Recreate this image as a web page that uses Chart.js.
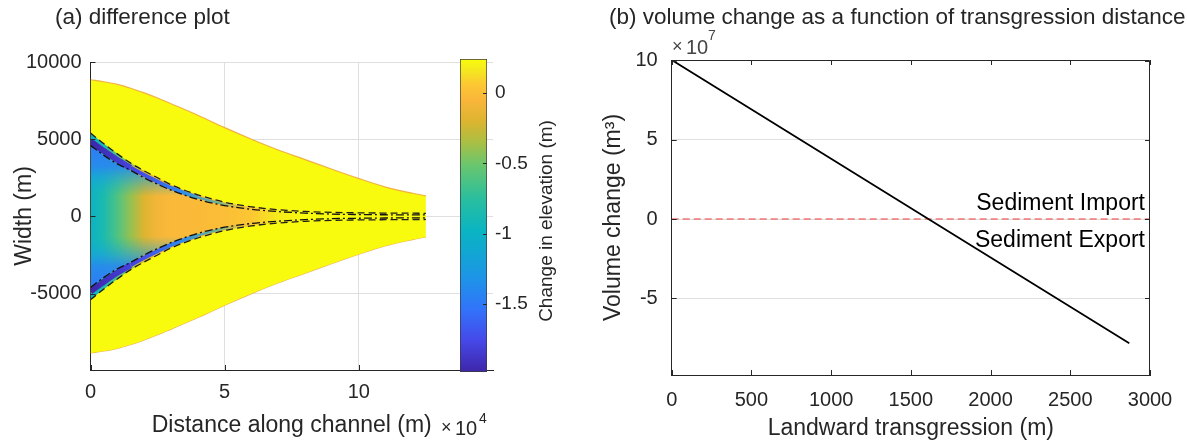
<!DOCTYPE html>
<html>
<head>
<meta charset="utf-8">
<title>difference plot / volume change</title>
<script src="https://cdn.jsdelivr.net/npm/chart.js@4.4.1/dist/chart.umd.min.js"></script>
<style>
  html, body { margin: 0; padding: 0; background: #fff; }
  #wrap { position: relative; width: 1187px; height: 447px; overflow: hidden; }
  canvas { position: absolute; top: 0; }
</style>
</head>
<body>
<div id="wrap">
  <canvas id="diff" width="600" height="447" style="left:0px"></canvas>
  <canvas id="cbar" width="145" height="447" style="left:455px"></canvas>
  <canvas id="vol" width="587" height="447" style="left:600px"></canvas>
</div>
<script>
// (a) planform: distance along channel (m) and half widths (m)
var distance     = [0, 5000, 10000, 15000, 20000, 25000, 30000, 40000, 50000, 60000, 70000, 80000, 90000, 100000, 110000, 120000, 125000];
var outerWidth   = [8850, 8720, 8550, 8300, 8000, 7670, 7300, 6550, 5750, 5000, 4300, 3680, 3050, 2450, 1900, 1500, 1330];
var dashedWidth  = [5400, 4700, 4050, 3450, 2950, 2500, 2050, 1400, 920, 620, 430, 320, 260, 230, 215, 205, 200];
var bandWidth    = [4850, 4230, 3650, 3150, 2680, 2250, 1850, 1230, 790, 520, 350, 250, 190, 160, 150, 145, 145];
var dashDotWidth = [4600, 3950, 3400, 2980, 2500, 2080, 1700, 1100, 700, 460, 310, 210, 150, 120, 105, 100, 100];
// change in elevation (m) along the channel centre line
var centreChange = [-1.0, -0.85, -0.62, -0.4, -0.2, -0.08, -0.03, -0.02, 0.0, 0.06, 0.18, 0.24, 0.24, 0.24, 0.24, 0.24, 0.24];

var distTicks  = [0, 50000, 100000];
var widthTicks = [-5000, 0, 5000, 10000];

// colour bar
var cbarMin = -1.984, cbarMax = 0.242;
var cbarTicks = [-1.5, -1, -0.5, 0];

// (b) volume change vs landward transgression
var transgression = [0, 1610, 2870];
var volumeChange  = [1.005e8, 0, -7.85e7];
var zeroX = [0, 3000];
var zeroY = [0, 0];
var transTicks = [0, 500, 1000, 1500, 2000, 2500, 3000];
var volTicks   = [-5e7, 0, 5e7, 1e8];

Chart.defaults.font.family = "'Liberation Sans', Arial, Helvetica, sans-serif";
Chart.defaults.color = '#262626';
var AX = '#262626', GRID = '#dfdfdf';

// parula-like colour map (fraction -> rgb)
var parulaStops = [
  [0.00, 62, 38, 168], [0.10, 70, 72, 232], [0.20, 50, 115, 250], [0.30, 30, 148, 232],
  [0.40, 15, 170, 205], [0.45, 10, 180, 195], [0.55, 40, 190, 160], [0.66, 105, 198, 110],
  [0.74, 175, 190, 65], [0.80, 220, 180, 48], [0.87, 250, 182, 58], [0.92, 252, 200, 50],
  [0.96, 245, 230, 32], [1.00, 249, 251, 14]
];
function parula(v) {
  var f = (v - cbarMin) / (cbarMax - cbarMin);
  f = Math.max(0, Math.min(1, f));
  for (var i = 1; i < parulaStops.length; i++) {
    var a = parulaStops[i - 1], b = parulaStops[i];
    if (f <= b[0]) {
      var t = (f - a[0]) / (b[0] - a[0]);
      return 'rgb(' + Math.round(a[1] + t * (b[1] - a[1])) + ',' + Math.round(a[2] + t * (b[2] - a[2])) + ',' + Math.round(a[3] + t * (b[3] - a[3])) + ')';
    }
  }
  return 'rgb(249,251,14)';
}

function pts(xs, ys, sign) {
  return xs.map(function (x, i) { return {x: x, y: sign * ys[i]}; });
}

function xGradient(chart, from, to, stops) {
  var xs = chart.scales.x;
  var g = chart.ctx.createLinearGradient(xs.getPixelForValue(from), 0, xs.getPixelForValue(to), 0);
  stops.forEach(function (s) { g.addColorStop(s[0], s[1]); });
  return g;
}

function channelFill(c) {
  var chart = c.chart;
  if (!chart.chartArea) return 'rgba(0,0,0,0)';
  var last = distance.length - 1, span = distance[last] - distance[0];
  return xGradient(chart, distance[0], distance[last], distance.map(function (d, i) {
    return [(d - distance[0]) / span, parula(centreChange[i])];
  }));
}
// blue fringe along the banks, fading out towards the centre line
function fringeFill(c) {
  var chart = c.chart;
  if (!chart.chartArea) return 'rgba(0,0,0,0)';
  var ys = chart.scales.y;
  var g = chart.ctx.createLinearGradient(0, ys.getPixelForValue(4600), 0, ys.getPixelForValue(-4600));
  [[0, 'rgba(48,122,246,1)'], [0.152, 'rgba(40,136,240,0.9)'], [0.25, 'rgba(25,162,222,0.5)'], [0.359, 'rgba(20,178,200,0)'],
   [0.641, 'rgba(20,178,200,0)'], [0.75, 'rgba(25,162,222,0.5)'], [0.848, 'rgba(40,136,240,0.9)'], [1, 'rgba(48,122,246,1)']]
    .forEach(function (s) { g.addColorStop(s[0], s[1]); });
  return g;
}
function bandColor(c) {
  if (!c.chart.chartArea) return 'rgba(0,0,0,0)';
  return xGradient(c.chart, 0, 60000, [[0, 'rgb(62,38,168)'], [0.3, 'rgb(70,72,232)'], [0.55, 'rgb(45,135,240)'], [0.8, 'rgba(20,175,205,0.6)'], [1, 'rgba(240,190,60,0)']]);
}
function bandWidthStyle(c) {
  var x = c.p0.parsed.x;
  return x < 15000 ? 6 : x < 35000 ? 4 : 2.5;
}

// inward tick marks and box lines, MATLAB style
var frame = {
  id: 'frame',
  afterDatasetsDraw: function (chart, args, o) {
    var c = chart.ctx, a = chart.chartArea, len = o.len || 5;
    c.save();
    c.strokeStyle = AX; c.lineWidth = 1;
    c.beginPath();
    (o.sides || []).forEach(function (side) {
      var horiz = side === 'top' || side === 'bottom';
      var sc = horiz ? chart.scales.x : chart.scales.y;
      sc.ticks.forEach(function (t) {
        var p = Math.round(sc.getPixelForValue(t.value)) + 0.5;
        if (side === 'bottom') { c.moveTo(p, a.bottom); c.lineTo(p, a.bottom - len); }
        if (side === 'top')    { c.moveTo(p, a.top); c.lineTo(p, a.top + len); }
        if (side === 'left')   { c.moveTo(a.left, p); c.lineTo(a.left + len, p); }
        if (side === 'right')  { c.moveTo(a.right, p); c.lineTo(a.right - len, p); }
      });
    });
    if (o.box) {
      var t = Math.round(a.top) + 0.5, r = Math.round(a.right) - 0.5;
      c.moveTo(a.left, t); c.lineTo(r, t); c.lineTo(r, a.bottom);
    }
    c.stroke();
    c.restore();
  }
};

// free text: panel titles, exponents, annotations
var texts = {
  id: 'texts',
  afterDraw: function (chart, args, o) {
    var c = chart.ctx;
    (o.items || []).forEach(function (t) {
      c.save();
      c.font = (t.size || 20) + "px 'Liberation Sans', Arial, sans-serif";
      c.fillStyle = t.color || AX;
      c.textAlign = t.align || 'left';
      c.textBaseline = t.baseline || 'alphabetic';
      c.translate(t.x, t.y);
      if (t.rot) c.rotate(t.rot);
      c.fillText(t.text, 0, 0);
      c.restore();
    });
  }
};

function fixTicks(list) {
  return function (s) { s.ticks = list.map(function (v) { return {value: v}; }); };
}

function lineSet(data, extra) {
  var d = {data: data, pointRadius: 0, borderWidth: 0, fill: false, cubicInterpolationMode: 'monotone'};
  for (var k in extra) d[k] = extra[k];
  return d;
}

// ---------- (a) difference plot ----------
new Chart(document.getElementById('diff'), {
  type: 'line',
  data: {
    datasets: [
      lineSet(pts(distance, outerWidth, 1),  {fill: '+1', backgroundColor: '#f9fb0e', borderColor: 'rgba(238,170,60,0.9)', borderWidth: 1.2, order: 10}),
      lineSet(pts(distance, outerWidth, -1), {borderColor: 'rgba(238,170,60,0.9)', borderWidth: 1.2, order: 10}),
      lineSet(pts(distance, dashedWidth, 1),  {fill: '+1', backgroundColor: channelFill, order: 9}),
      lineSet(pts(distance, dashedWidth, -1), {order: 9}),
      lineSet(pts(distance, dashDotWidth, 1),  {fill: '+1', backgroundColor: fringeFill, order: 8}),
      lineSet(pts(distance, dashDotWidth, -1), {order: 8}),
      lineSet(pts(distance, bandWidth, 1),  {borderColor: bandColor, borderWidth: 5, order: 7, segment: {borderWidth: bandWidthStyle}}),
      lineSet(pts(distance, bandWidth, -1), {borderColor: bandColor, borderWidth: 5, order: 7, segment: {borderWidth: bandWidthStyle}}),
      lineSet(pts(distance, dashDotWidth, 1),  {borderColor: '#111', borderWidth: 1.3, borderDash: [8, 3, 2, 3], order: 2}),
      lineSet(pts(distance, dashDotWidth, -1), {borderColor: '#111', borderWidth: 1.3, borderDash: [8, 3, 2, 3], order: 2}),
      lineSet(pts(distance, dashedWidth, 1),  {borderColor: '#1e1e1e', borderWidth: 1.3, borderDash: [7, 4], order: 1}),
      lineSet(pts(distance, dashedWidth, -1), {borderColor: '#1e1e1e', borderWidth: 1.3, borderDash: [7, 4], order: 1})
    ]
  },
  options: {
    responsive: false, animation: false, events: [],
    layout: {padding: {left: 0, right: 107, top: 62, bottom: 0}},
    plugins: {
      legend: {display: false}, tooltip: {enabled: false},
      frame: {sides: ['left', 'bottom'], len: 5},
      texts: {items: [
        {text: '(a) difference plot', x: 55, y: 24, size: 22.5},
        {text: '\u00d7', x: 441, y: 433, size: 18},
        {text: '10', x: 455, y: 435, size: 20},
        {text: '4', x: 479, y: 423, size: 14}
      ]}
    },
    scales: {
      x: {
        type: 'linear', min: 0, max: 150000,
        afterBuildTicks: fixTicks(distTicks),
        afterFit: function (s) { s.height = 77; },
        ticks: {padding: 10, font: {size: 20}, maxRotation: 0, autoSkip: false,
          callback: function (v) { return String(v / 1e4); }},
        grid: {color: GRID, drawTicks: false},
        border: {color: AX},
        title: {display: true, text: 'Distance along channel (m)', font: {size: 23}, padding: {top: 0, bottom: 8}}
      },
      y: {
        type: 'linear', min: -9950, max: 10000,
        afterBuildTicks: fixTicks(widthTicks),
        afterFit: function (s) { s.width = 90.5; },
        ticks: {padding: 9, font: {size: 20}, callback: function (v) { return String(v); }},
        grid: {color: GRID, drawTicks: false},
        border: {color: AX},
        title: {display: true, text: 'Width (m)', font: {size: 23}, padding: {top: 11, bottom: 0}}
      }
    }
  },
  plugins: [frame, texts]
});

// ---------- colour bar ----------
function cbarFill(c) {
  var chart = c.chart;
  if (!chart.chartArea) return 'rgba(0,0,0,0)';
  var ys = chart.scales.y;
  var g = chart.ctx.createLinearGradient(0, ys.getPixelForValue(cbarMin), 0, ys.getPixelForValue(cbarMax));
  parulaStops.forEach(function (s) { g.addColorStop(s[0], 'rgb(' + s[1] + ',' + s[2] + ',' + s[3] + ')'); });
  return g;
}

new Chart(document.getElementById('cbar'), {
  type: 'bar',
  data: {
    labels: ['elevation'],
    datasets: [{data: [[cbarMin, cbarMax]], backgroundColor: cbarFill, borderColor: '#3a3a3a', borderWidth: 1,
      borderSkipped: false, barPercentage: 1, categoryPercentage: 1}]
  },
  options: {
    responsive: false, animation: false, events: [],
    layout: {padding: {left: 5, right: 0, top: 59, bottom: 75}},
    plugins: {
      legend: {display: false}, tooltip: {enabled: false},
      frame: {sides: ['right'], len: 4},
      texts: {items: [
        {text: 'Change in elevation (m)', x: 91.7, y: 221, size: 19, align: 'center', baseline: 'middle', rot: -Math.PI / 2}
      ]}
    },
    scales: {
      x: {display: false},
      y: {
        position: 'right', min: cbarMin, max: cbarMax,
        afterBuildTicks: fixTicks(cbarTicks),
        afterFit: function (s) { s.width = 113; },
        ticks: {padding: 8, font: {size: 19}, callback: function (v) { return String(v); }},
        grid: {display: false, drawTicks: false},
        border: {display: false}
      }
    }
  },
  plugins: [frame, texts]
});

// ---------- (b) volume change ----------
new Chart(document.getElementById('vol'), {
  type: 'line',
  data: {
    datasets: [
      lineSet(pts(transgression, volumeChange, 1), {borderColor: '#000', borderWidth: 1.8, order: 1, cubicInterpolationMode: 'default'}),
      lineSet(pts(zeroX, zeroY, 1), {borderColor: 'rgba(240,85,85,0.8)', borderWidth: 1.5, borderDash: [7, 4], order: 2, cubicInterpolationMode: 'default'})
    ]
  },
  options: {
    responsive: false, animation: false, events: [],
    layout: {padding: {left: 0, right: 37, top: 60, bottom: 0}},
    plugins: {
      legend: {display: false}, tooltip: {enabled: false},
      frame: {sides: ['left', 'right', 'top', 'bottom'], len: 5, box: true},
      texts: {items: [
        {text: '(b) volume change as a function of transgression distance', x: 9, y: 24, size: 22.5},
        {text: '\u00d7', x: 72, y: 52, size: 18, color: '#444'},
        {text: '10', x: 86, y: 54, size: 20, color: '#444'},
        {text: '7', x: 108, y: 40, size: 14, color: '#444'},
        {text: 'Sediment Import', x: 545, y: 210, size: 23, align: 'right', color: '#000'},
        {text: 'Sediment Export', x: 545, y: 247, size: 23, align: 'right', color: '#000'}
      ]}
    },
    scales: {
      x: {
        type: 'linear', min: 0, max: 3000,
        afterBuildTicks: fixTicks(transTicks),
        afterFit: function (s) { s.height = 72; },
        ticks: {padding: 13, font: {size: 20}, maxRotation: 0, autoSkip: false,
          callback: function (v) { return String(v); }},
        grid: {display: false, drawTicks: false},
        border: {color: AX},
        title: {display: true, text: 'Landward transgression (m)', font: {size: 23}, padding: {top: 0, bottom: 5}}
      },
      y: {
        type: 'linear', min: -9.85e7, max: 1.005e8,
        afterBuildTicks: fixTicks(volTicks),
        afterFit: function (s) { s.width = 71.7; },
        ticks: {padding: 14, font: {size: 20}, callback: function (v) { return String(v / 1e7); }},
        grid: {color: GRID, drawTicks: false},
        border: {color: AX},
        title: {display: true, text: 'Volume change (m\u00b3)', font: {size: 23}, padding: {top: 0, bottom: 0}}
      }
    }
  },
  plugins: [frame, texts]
});
</script>
</body>
</html>
